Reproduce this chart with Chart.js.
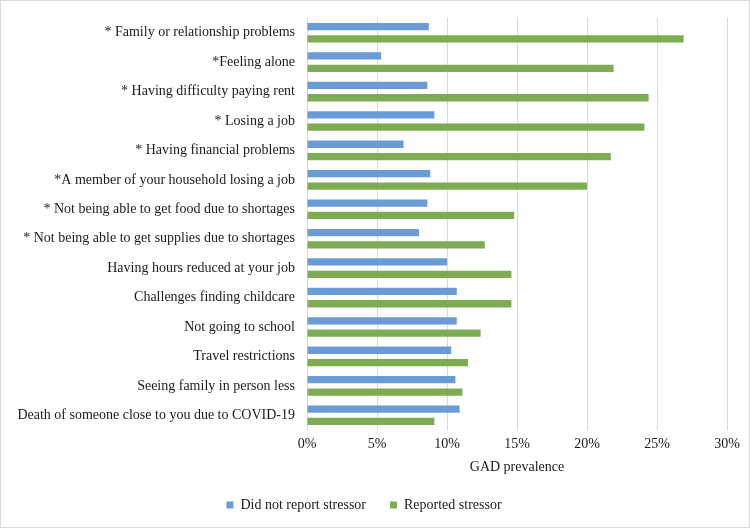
<!DOCTYPE html>
<html lang="en">
<head>
  <meta charset="UTF-8">
  <title>GAD prevalence by stressor</title>
  <script src="https://cdn.jsdelivr.net/npm/chart.js"></script>
  <style>
    html, body { margin: 0; padding: 0; background: #fff; }
    .frame { width: 750px; height: 528px; box-sizing: border-box; border: 1px solid #d9d9d9; }
  </style>
</head>
<body>
  <div class="frame">
    <canvas id="gadChart" width="748" height="526"></canvas>
  </div>

  <script>
    // stressor categories, top to bottom
    const stressors = [
      '* Family or relationship problems',
      '*Feeling alone',
      '* Having difficulty paying rent',
      '* Losing a job',
      '* Having financial problems',
      '*A member of your household losing a job',
      '* Not being able to get food due to shortages',
      '* Not being able to get supplies due to shortages',
      'Having hours reduced at your job',
      'Challenges finding childcare',
      'Not going to school',
      'Travel restrictions',
      'Seeing family in person less',
      'Death of someone close to you due to COVID-19'
    ];

    // GAD prevalence (%)
    const notReported = [8.7, 5.3, 8.6, 9.1, 6.9, 8.8, 8.6, 8.0, 10.0, 10.7, 10.7, 10.3, 10.6, 10.9];
    const reported = [26.9, 21.9, 24.4, 24.1, 21.7, 20.0, 14.8, 12.7, 14.6, 14.6, 12.4, 11.5, 11.1, 9.1];

    const xTicks = [0, 5, 10, 15, 20, 25, 30];

    const serif = "'Liberation Serif', 'Times New Roman', serif";
    const textColor = '#1a1a1a';

    const ctx = document.getElementById('gadChart').getContext('2d');
    new Chart(ctx, {
      type: 'bar',
      data: {
        labels: stressors,
        datasets: [
          {
            label: 'Did not report stressor',
            data: notReported,
            backgroundColor: '#6b9bd6',
            barPercentage: 0.59,
            categoryPercentage: 0.84
          },
          {
            label: 'Reported stressor',
            data: reported,
            backgroundColor: '#7eac55',
            barPercentage: 0.59,
            categoryPercentage: 0.84
          }
        ]
      },
      options: {
        indexAxis: 'y',
        responsive: false,
        animation: false,
        layout: { padding: { top: 17, right: 22, bottom: 5, left: 0 } },
        scales: {
          x: {
            min: 0,
            max: 30,
            afterBuildTicks: (axis) => { axis.ticks = xTicks.map(v => ({ value: v })); },
            grid: { color: '#d9d9d9', drawTicks: false },
            border: { display: false },
            ticks: {
              padding: 7,
              color: textColor,
              font: { family: serif, size: 14, lineHeight: 1 },
              callback: (v) => v + '%'
            },
            title: {
              display: true,
              text: 'GAD prevalence',
              color: textColor,
              font: { family: serif, size: 14, lineHeight: 1 },
              padding: { top: 2, bottom: 0 }
            }
          },
          y: {
            grid: { display: false },
            border: { display: false },
            afterFit: (axis) => { axis.width = 306; },
            ticks: {
              padding: 4,
              color: textColor,
              font: { family: serif, size: 14 },
              autoSkip: false
            }
          }
        },
        plugins: {
          legend: {
            position: 'bottom',
            labels: {
              boxWidth: 7,
              boxHeight: 7,
              padding: 24,
              color: textColor,
              font: { family: serif, size: 14 }
            }
          },
          tooltip: { enabled: false }
        }
      }
    });
  </script>
</body>
</html>
